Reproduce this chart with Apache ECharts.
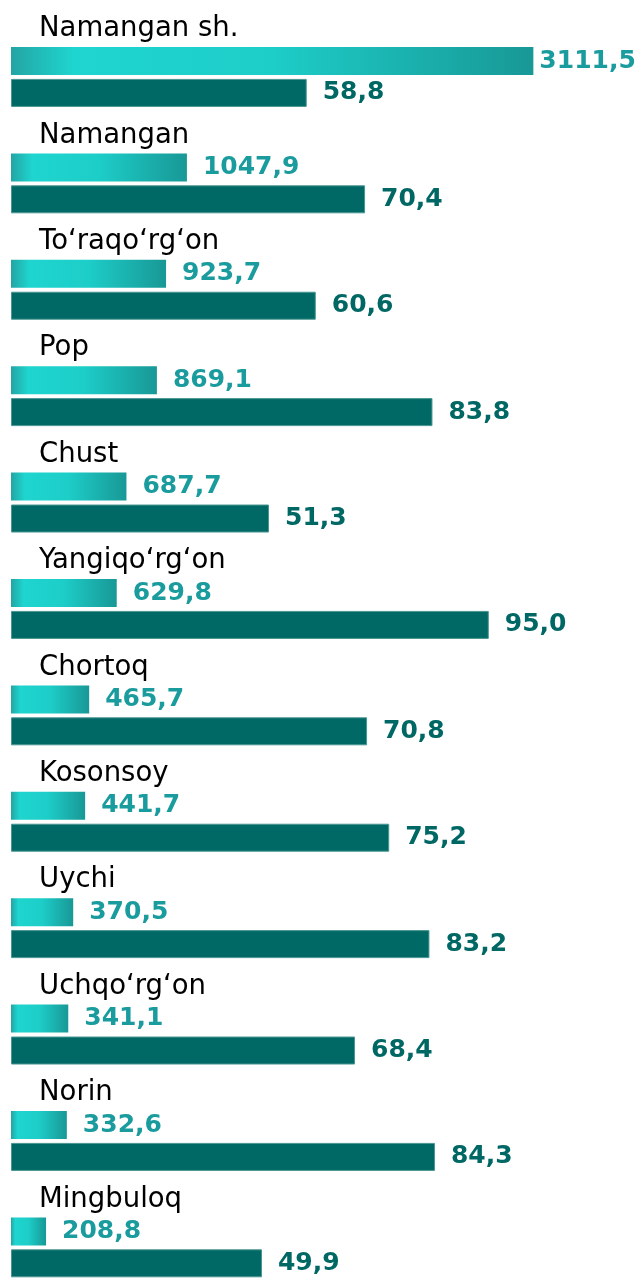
<!DOCTYPE html>
<html>
<head>
<meta charset="utf-8">
<script src="https://cdn.jsdelivr.net/npm/echarts@6/dist/echarts.min.js"></script>
<style>
  html, body { margin: 0; padding: 0; background: #fff; }
  #wrap { width: 636px; height: 1279px; overflow: hidden; }
  /* grafik pastki qatori kadrdan biroz chiqib ketadi, shuning uchun balandroq */
  #chart { width: 636px; height: 1292px; }
</style>
</head>
<body>
<div id="wrap"><div id="chart"></div></div>
<script>
// tumanlar / shaharlar
var districts = ['Namangan sh.', 'Namangan', 'To\u2018raqo\u2018rg\u2018on', 'Pop', 'Chust', 'Yangiqo\u2018rg\u2018on',
  'Chortoq', 'Kosonsoy', 'Uychi', 'Uchqo\u2018rg\u2018on', 'Norin', 'Mingbuloq'];
// birinchi ko'rsatkich (och rang)
var volume = [3111.5, 1047.9, 923.7, 869.1, 687.7, 629.8, 465.7, 441.7, 370.5, 341.1, 332.6, 208.8];
// ikkinchi ko'rsatkich, foiz (to'q rang)
var share = [58.8, 70.4, 60.6, 83.8, 51.3, 95.0, 70.8, 75.2, 83.2, 68.4, 84.3, 49.9];

var chart = echarts.init(document.getElementById('chart'), null, { renderer: 'canvas' });

function fmt(v) {
  return v.toFixed(1).replace('.', ',');
}

var lightGrad = new echarts.graphic.LinearGradient(0, 0, 1, 0, [
  { offset: 0, color: '#23a5a4' },
  { offset: 0.12, color: '#1fd5cf' },
  { offset: 0.5, color: '#1dcdc8' },
  { offset: 1, color: '#189896' }
]);

var option = {
  backgroundColor: '#ffffff',
  animation: false,
  grid: { left: 11, top: 7.8, width: 600, height: 1276.8, containLabel: false },
  xAxis: [
    { type: 'value', min: 0, max: 3574, show: false },
    { type: 'value', min: 0, max: 119.3, show: false }
  ],
  yAxis: {
    type: 'category',
    inverse: true,
    data: districts,
    show: false
  },
  series: [
    {
      // nomlar uchun bo'sh qator
      type: 'bar',
      xAxisIndex: 0,
      silent: true,
      barWidth: 28,
      barGap: '14%',
      data: districts.map(function () { return 0; }),
      itemStyle: { color: 'rgba(0,0,0,0)' },
      label: {
        show: true,
        position: 'right',
        distance: 28,
        formatter: '{b}',
        color: '#000',
        fontFamily: 'DejaVu Sans',
        fontSize: 27.5
      }
    },
    {
      type: 'bar',
      xAxisIndex: 0,
      barWidth: 28,
      barGap: '14%',
      data: volume.map(function (v, i) {
        var d = { value: v };
        if (i === 0) d.label = { distance: 6 };
        return d;
      }),
      itemStyle: { color: lightGrad },
      label: {
        show: true,
        position: 'right',
        distance: 16,
        formatter: function (p) { return fmt(p.value); },
        color: '#1a9b9d',
        fontFamily: 'DejaVu Sans',
        fontWeight: 'bold',
        fontSize: 25
      }
    },
    {
      type: 'bar',
      xAxisIndex: 1,
      barWidth: 28,
      barGap: '14%',
      data: share,
      itemStyle: { color: '#006865', borderColor: '#4a9692', borderWidth: 1 },
      label: {
        show: true,
        position: 'right',
        distance: 16,
        formatter: function (p) { return fmt(p.value); },
        color: '#006864',
        fontFamily: 'DejaVu Sans',
        fontWeight: 'bold',
        fontSize: 25
      }
    }
  ]
};

chart.setOption(option);
</script>
</body>
</html>
